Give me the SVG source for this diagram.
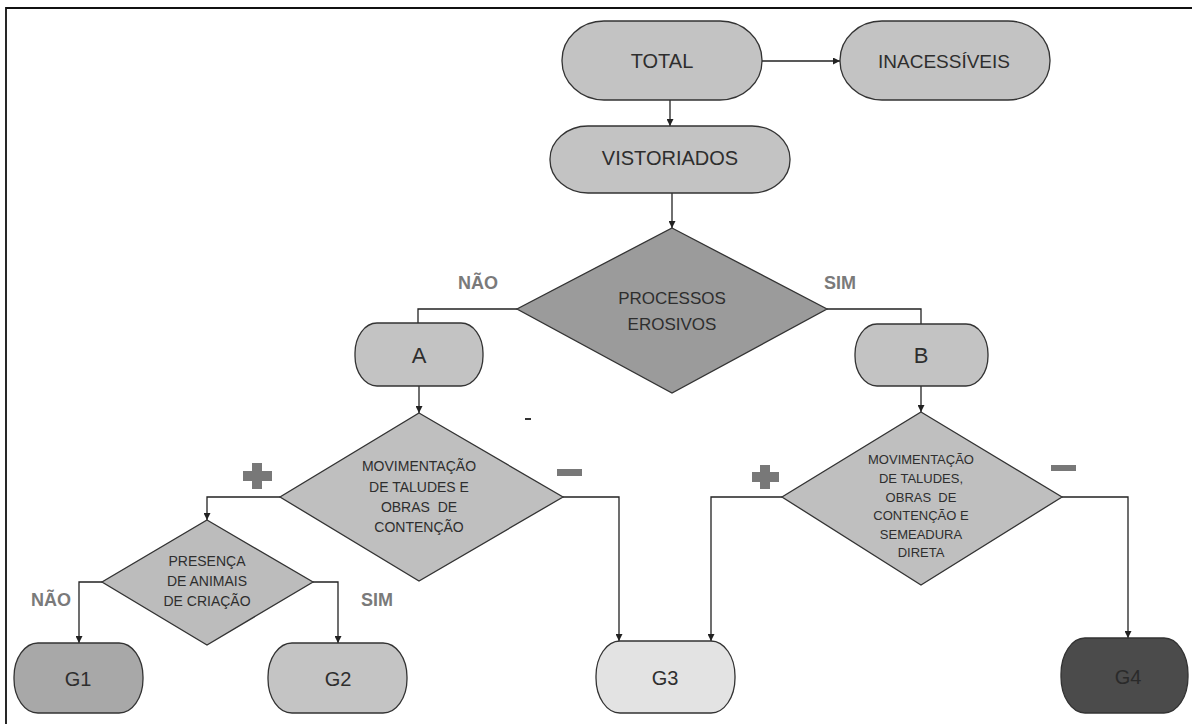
<svg xmlns="http://www.w3.org/2000/svg" width="1192" height="724" viewBox="0 0 1192 724">
<style>
.t{font-family:"Liberation Sans",Arial,sans-serif;fill:#2e2e2e;text-anchor:middle;dominant-baseline:central}
.lbl{font-family:"Liberation Sans",Arial,sans-serif;font-weight:bold;font-size:18px;fill:#7a7a7a;text-anchor:middle;dominant-baseline:central}
.sh{stroke:#333;stroke-width:1.3}
.c{fill:none;stroke:#222;stroke-width:1.3}
.sign{fill:#787878}
</style>
<defs>
<marker id="ah" viewBox="0 0 10 10" refX="10" refY="5" markerWidth="7" markerHeight="7" markerUnits="userSpaceOnUse" orient="auto">
<path d="M0,0 L10,5 L0,10 z" fill="#222"/>
</marker>
</defs>
<rect width="1192" height="724" fill="#fff"/>
<path d="M6,724 V8 H1192" fill="none" stroke="#111" stroke-width="1.8"/>

<g id="connectors">
<path class="c" d="M762,61 H840" marker-end="url(#ah)"/>
<path class="c" d="M670,100 V126" marker-end="url(#ah)"/>
<path class="c" d="M672,193 V228" marker-end="url(#ah)"/>
<path class="c" d="M517,309 H418 V323"/>
<path class="c" d="M827,309 H921 V324"/>
<path class="c" d="M419,386 V413" marker-end="url(#ah)"/>
<path class="c" d="M921,386 V412" marker-end="url(#ah)"/>
<path class="c" d="M280,497 H207 V520" marker-end="url(#ah)"/>
<path class="c" d="M563,497 H619 V641" marker-end="url(#ah)"/>
<path class="c" d="M102,582 H79 V643" marker-end="url(#ah)"/>
<path class="c" d="M313,582 H338 V643" marker-end="url(#ah)"/>
<path class="c" d="M782,497 H711 V641" marker-end="url(#ah)"/>
<path class="c" d="M1062,497 H1128 V638" marker-end="url(#ah)"/>
</g>

<g id="total">
<rect class="sh" x="562" y="21" width="200" height="79" rx="42" ry="39" fill="#c3c3c3"/>
<text class="t" x="662" y="61" font-size="20">TOTAL</text>
</g>
<g id="inacessiveis">
<rect class="sh" x="840" y="21" width="210" height="79" rx="42" ry="39" fill="#c3c3c3"/>
<text class="t" x="944" y="61" font-size="19">INACESSÍVEIS</text>
</g>
<g id="vistoriados">
<rect class="sh" x="550" y="126" width="240" height="67" rx="38" ry="33" fill="#c3c3c3"/>
<text class="t" x="670" y="158" font-size="20">VISTORIADOS</text>
</g>
<g id="processos">
<polygon class="sh" points="672,228 827,309 672,393 517,309" fill="#9b9b9b"/>
<text class="t" x="672" y="298" font-size="17">PROCESSOS</text>
<text class="t" x="672" y="324" font-size="17">EROSIVOS</text>
</g>
<g id="lbl-nao1"><text class="lbl" x="478" y="283">NÃO</text></g>
<g id="lbl-sim1"><text class="lbl" x="840" y="283">SIM</text></g>

<g id="a">
<rect class="sh" x="355" y="323" width="128" height="63" rx="22" ry="30" fill="#c3c3c3"/>
<text class="t" x="419" y="355" font-size="22">A</text>
</g>
<g id="b">
<rect class="sh" x="855" y="324" width="133" height="62" rx="22" ry="30" fill="#c3c3c3"/>
<text class="t" x="921" y="355" font-size="22">B</text>
</g>

<g id="mov-a">
<polygon class="sh" points="419,413 563,497 419,581 280,497" fill="#bfbfbf"/>
<text class="t" x="419" y="466" font-size="14">MOVIMENTAÇÃO</text>
<text class="t" x="419" y="487" font-size="14">DE TALUDES E</text>
<text class="t" x="419" y="507" font-size="14" xml:space="preserve">OBRAS  DE</text>
<text class="t" x="419" y="527" font-size="14">CONTENÇÃO</text>
</g>
<g id="plus-a"><rect class="sign" x="243" y="471" width="29" height="10"/><rect class="sign" x="252" y="463" width="10" height="26"/></g>
<g id="minus-a"><rect class="sign" x="557" y="469" width="25" height="7"/></g>

<g id="mov-b">
<polygon class="sh" points="921,412 1062,497 921,585 782,497" fill="#bfbfbf"/>
<text class="t" x="921" y="459" font-size="13">MOVIMENTAÇÃO</text>
<text class="t" x="921" y="478" font-size="13">DE TALUDES,</text>
<text class="t" x="921" y="497" font-size="13" xml:space="preserve">OBRAS  DE</text>
<text class="t" x="921" y="515" font-size="13">CONTENÇÃO E</text>
<text class="t" x="921" y="534" font-size="13">SEMEADURA</text>
<text class="t" x="921" y="552" font-size="13">DIRETA</text>
</g>
<g id="plus-b"><rect class="sign" x="752" y="472" width="27" height="10"/><rect class="sign" x="760" y="465" width="10" height="24"/></g>
<g id="minus-b"><rect class="sign" x="1051" y="465" width="25" height="6"/></g>

<g id="presenca">
<polygon class="sh" points="207,520 313,582 207,645 102,582" fill="#bcbcbc"/>
<text class="t" x="207" y="561" font-size="14">PRESENÇA</text>
<text class="t" x="207" y="581" font-size="14">DE ANIMAIS</text>
<text class="t" x="207" y="601" font-size="14">DE CRIAÇÃO</text>
</g>
<g id="lbl-nao2"><text class="lbl" x="51" y="600">NÃO</text></g>
<g id="lbl-sim2"><text class="lbl" x="377" y="600">SIM</text></g>

<g id="g1">
<rect class="sh" x="14" y="643" width="129" height="70" rx="24" ry="34" fill="#a8a8a8"/>
<text class="t" x="78" y="679" font-size="20">G1</text>
</g>
<g id="g2">
<rect class="sh" x="268" y="643" width="139" height="70" rx="24" ry="34" fill="#c4c4c4"/>
<text class="t" x="338" y="679" font-size="20">G2</text>
</g>
<g id="g3">
<rect class="sh" x="596" y="641" width="139" height="72" rx="24" ry="35" fill="#e3e3e3"/>
<text class="t" x="665" y="678" font-size="20">G3</text>
</g>
<g id="g4">
<rect class="sh" x="1061" y="638" width="127" height="75" rx="24" ry="36" fill="#4b4b4b"/>
<text class="t" x="1128" y="677" font-size="20" style="fill:#2a2a2a">G4</text>
</g>
<rect x="525" y="418" width="6" height="2" fill="#333"/>
</svg>
